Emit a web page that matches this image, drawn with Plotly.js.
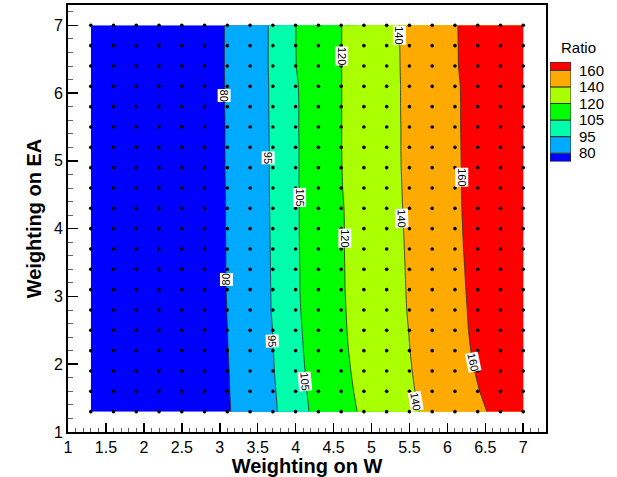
<!DOCTYPE html>
<html>
<head>
<meta charset="utf-8">
<script src="https://cdn.plot.ly/plotly-3.0.1.min.js"></script>
<style>
  html, body { margin: 0; padding: 0; background: #fff; }
  #chart { width: 617px; height: 477px; }
</style>
</head>
<body>
<div id="chart"></div>
<script>
// ---- data ----
var xVals = [1.3, 1.6, 1.9, 2.2, 2.5, 2.8, 3.1, 3.4, 3.7, 4.0, 4.3, 4.6, 4.9, 5.2, 5.5, 5.8, 6.1, 6.4, 6.7, 7.0];
var yVals = [1.3, 1.6, 1.9, 2.2, 2.5, 2.8, 3.1, 3.4, 3.7, 4.0, 4.3, 4.6, 4.9, 5.2, 5.5, 5.8, 6.1, 6.4, 6.7, 7.0];

// Ratio values, one row per y (from y = 1.3 up to y = 7.0)
var ratioY13 = [32.0, 39.8, 47.6, 55.4, 63.2, 71.0, 78.9, 86.2, 93.5, 100.8, 107.9, 115.0, 122.1, 129.6, 137.0, 144.0, 150.7, 157.3, 164.0, 170.6];
var ratioY16 = [32.4, 40.2, 48.0, 55.8, 63.6, 71.4, 79.2, 86.6, 94.0, 101.4, 108.7, 116.0, 123.3, 130.8, 138.3, 145.4, 152.4, 159.4, 166.4, 173.4];
var ratioY19 = [32.6, 40.4, 48.2, 56.0, 63.8, 71.6, 79.4, 86.9, 94.5, 101.9, 109.4, 116.8, 124.3, 131.7, 139.1, 146.4, 153.7, 161.0, 168.3, 175.6];
var ratioY22 = [32.9, 40.7, 48.5, 56.3, 64.1, 71.9, 79.7, 87.3, 94.8, 102.4, 110.0, 117.6, 125.0, 132.4, 139.8, 147.3, 154.8, 162.3, 169.8, 177.3];
var ratioY25 = [33.2, 41.0, 48.8, 56.6, 64.4, 72.2, 79.97, 87.5, 95.1, 102.8, 110.5, 118.1, 125.5, 132.9, 140.3, 147.9, 155.5, 163.1, 170.6, 178.2];
var ratioY28 = [33.4, 41.2, 49.0, 56.8, 64.6, 72.4, 80.2, 87.9, 95.6, 103.3, 110.9, 118.4, 125.9, 133.4, 140.9, 148.4, 155.9, 163.5, 171.0, 178.5];
var ratioY31 = [33.6, 41.4, 49.2, 57.0, 64.8, 72.6, 80.4, 88.1, 95.7, 103.6, 111.1, 118.7, 126.2, 133.7, 141.2, 148.8, 156.4, 163.9, 171.5, 179.1];
var ratioY34 = [33.7, 41.5, 49.3, 57.1, 64.9, 72.7, 80.5, 88.2, 95.8, 103.6, 111.2, 118.8, 126.3, 133.9, 141.4, 149.1, 156.7, 164.4, 172.0, 179.7];
var ratioY37 = [33.7, 41.5, 49.3, 57.1, 64.9, 72.7, 80.5, 88.2, 95.9, 103.7, 111.3, 118.9, 126.5, 134.1, 141.7, 149.4, 157.1, 164.8, 172.5, 180.2];
var ratioY40 = [33.8, 41.6, 49.4, 57.2, 65.0, 72.8, 80.6, 88.3, 96.0, 103.8, 111.4, 118.9, 126.6, 134.3, 142.0, 149.7, 157.4, 165.1, 172.9, 180.6];
var ratioY43 = [33.9, 41.7, 49.4, 57.2, 65.0, 72.9, 80.6, 88.3, 96.1, 103.8, 111.4, 119.0, 126.8, 134.6, 142.3, 150.0, 157.7, 165.3, 173.0, 180.7];
var ratioY46 = [33.9, 41.7, 49.5, 57.3, 65.1, 72.9, 80.7, 88.4, 96.2, 103.8, 111.6, 119.5, 127.2, 134.9, 142.5, 150.2, 157.8, 165.4, 173.1, 180.7];
var ratioY49 = [34.0, 41.8, 49.6, 57.4, 65.2, 73.0, 80.8, 88.5, 96.2, 103.8, 111.8, 119.7, 127.4, 135.1, 142.8, 150.3, 157.9, 165.5, 173.1, 180.7];
var ratioY52 = [34.0, 41.8, 49.6, 57.4, 65.2, 73.0, 80.8, 88.5, 96.2, 103.8, 111.8, 119.8, 127.5, 135.2, 142.9, 150.4, 158.0, 165.6, 173.2, 180.8];
var ratioY55 = [34.0, 41.8, 49.6, 57.4, 65.2, 73.0, 80.8, 88.6, 96.3, 103.9, 111.8, 119.8, 127.5, 135.2, 142.9, 150.5, 158.1, 165.7, 173.3, 180.8];
var ratioY58 = [34.1, 41.9, 49.7, 57.5, 65.3, 73.1, 80.9, 88.6, 96.4, 103.9, 111.8, 119.8, 127.5, 135.3, 143.0, 150.6, 158.1, 165.7, 173.3, 180.9];
var ratioY61 = [34.1, 41.9, 49.7, 57.5, 65.3, 73.1, 80.9, 88.7, 96.4, 104.0, 111.9, 119.8, 127.5, 135.3, 143.0, 150.6, 158.2, 165.8, 173.4, 181.0];
var ratioY64 = [34.4, 42.2, 50.0, 57.7, 65.5, 73.2, 81.0, 88.7, 96.6, 104.8, 112.3, 119.8, 127.6, 135.4, 143.2, 151.0, 158.8, 166.6, 174.4, 182.2];
var ratioY67 = [34.4, 42.2, 50.0, 57.7, 65.5, 73.2, 81.0, 88.7, 96.6, 104.9, 112.4, 119.8, 127.6, 135.5, 143.3, 151.1, 158.9, 166.7, 174.5, 182.3];
var ratioY70 = [34.4, 42.2, 50.0, 57.7, 65.5, 73.2, 81.0, 88.7, 96.6, 104.9, 112.4, 119.8, 127.7, 135.6, 143.4, 151.2, 159.0, 166.8, 174.6, 182.4];

var contourLevels = [80, 95, 105, 120, 140, 160];
var legendLabels = ['80', '95', '105', '120', '140', '160'];
var bandColors = ['#0000ff', '#00aaff', '#00ffaa', '#00ff00', '#aaff00', '#ffaa00', '#ff0000'];

// contour label placement (text, position on the line, rotation)
var contourLabels = [
  {t: '80',  x: 3.06, y: 5.96, a: 90},
  {t: '95',  x: 3.645, y: 5.05, a: 90},
  {t: '140', x: 5.37, y: 6.86, a: 90},
  {t: '120', x: 4.609, y: 6.55, a: 90},
  {t: '105', x: 4.046, y: 4.46, a: 90},
  {t: '160', x: 6.183, y: 4.755, a: 90},
  {t: '140', x: 5.405, y: 4.15, a: 88},
  {t: '120', x: 4.642, y: 3.855, a: 90},
  {t: '80',  x: 3.082, y: 3.25, a: -90},
  {t: '95',  x: 3.69, y: 2.34, a: 88},
  {t: '105', x: 4.12, y: 1.75, a: 85},
  {t: '160', x: 6.345, y: 2.04, a: 78},
  {t: '140', x: 5.59, y: 1.45, a: 80}
];

// ---- build ----
var zRows = [ratioY13, ratioY16, ratioY19, ratioY22, ratioY25, ratioY28, ratioY31, ratioY34, ratioY37, ratioY40,
             ratioY43, ratioY46, ratioY49, ratioY52, ratioY55, ratioY58, ratioY61, ratioY64, ratioY67, ratioY70];

var cStart = 80, cEnd = 160, cSize = 5;
var nC = (cEnd - cStart) / cSize + 1;
function sOf(v) { return (v - (cStart - cSize / 2)) / (nC * cSize); }
var colorscale = [[0, bandColors[0]]];
for (var k = 0; k < contourLevels.length; k++) {
  var s = sOf(contourLevels[k]);
  colorscale.push([s, bandColors[k]]);
  colorscale.push([s, bandColors[k + 1]]);
}
colorscale.push([1, bandColors[bandColors.length - 1]]);

var traces = [];
traces.push({
  type: 'contour', x: xVals, y: yVals, z: zRows,
  autocontour: false,
  contours: {coloring: 'fill', start: cStart, end: cEnd, size: cSize, showlines: false},
  colorscale: colorscale, showscale: false,
  line: {width: 0}, hoverinfo: 'skip'
});
contourLevels.forEach(function (L) {
  traces.push({
    type: 'contour', x: xVals, y: yVals, z: zRows,
    autocontour: false,
    contours: {coloring: 'none', start: L, end: L, size: 1, showlines: true},
    line: {color: '#2a2a2a', width: 0.8, smoothing: 0},
    showscale: false, hoverinfo: 'skip'
  });
});

var dotX = [], dotY = [];
yVals.forEach(function (yv) { xVals.forEach(function (xv) { dotX.push(xv); dotY.push(yv); }); });
traces.push({
  type: 'scatter', mode: 'markers', x: dotX, y: dotY,
  marker: {color: '#000', size: 3.6}, hoverinfo: 'skip'
});

// legend as stacked boxes
var legHeights = bandColors.map(function (c, i) { return (i === 0 || i === bandColors.length - 1) ? 0.5 : 1; });
var legBase = [], acc = 0;
legHeights.forEach(function (h) { legBase.push(acc); acc += h; });
traces.push({
  type: 'bar', x: bandColors.map(function () { return 0; }), y: legHeights, base: legBase,
  width: 1, xaxis: 'x2', yaxis: 'y2',
  marker: {color: bandColors, line: {color: '#333', width: 1}},
  hoverinfo: 'skip'
});
var legTickVals = contourLevels.map(function (L, i) { return 0.5 + i; });

var font = 'Liberation Sans, Arial, sans-serif';
var W = 617, H = 477, mL = 68, mR = 10, mT = 5, mB = 45;
var pw = W - mL - mR, ph = H - mT - mB;
function px2x(p) { return (p - mL) / pw; }
function py2y(p) { return (H - mB - p) / ph; }

var annotations = contourLabels.map(function (c) {
  return {x: c.x, y: c.y, xref: 'x', yref: 'y', text: c.t, showarrow: false,
          textangle: c.a, bgcolor: '#ffffff', borderpad: 0,
          font: {family: font, size: 11, color: '#000'}};
});
annotations.push({x: px2x(578), y: py2y(47), xref: 'paper', yref: 'paper', text: 'Ratio',
                  xanchor: 'center', yanchor: 'middle',
                  showarrow: false, font: {family: font, size: 15, color: '#000'}});

var layout = {
  width: W, height: H,
  margin: {l: mL, r: mR, t: mT, b: mB, pad: 0},
  paper_bgcolor: '#fff', plot_bgcolor: '#fff',
  font: {family: font, color: '#000'},
  showlegend: false,
  xaxis: {
    domain: [0, px2x(546)], range: [1, 7.3], anchor: 'y',
    tick0: 1, dtick: 0.5, ticks: 'inside', ticklen: 9, tickwidth: 1.5, tickcolor: '#000',
    minor: {dtick: 0.1, ticks: 'inside', ticklen: 4, tickwidth: 1, tickcolor: '#666'},
    showline: true, linewidth: 2, linecolor: '#000', mirror: true,
    showgrid: false, zeroline: false,
    tickfont: {family: font, size: 16, color: '#000'},
    title: {text: 'Weighting on W', font: {family: font, size: 20, weight: 'bold', color: '#000'}, standoff: 0},
    automargin: false
  },
  yaxis: {
    domain: [0, 1], range: [1, 7.3], anchor: 'x',
    tick0: 1, dtick: 1, ticks: 'inside', ticklen: 10, tickwidth: 1.5, tickcolor: '#000',
    minor: {dtick: 0.2, ticks: 'inside', ticklen: 5, tickwidth: 1, tickcolor: '#666'},
    showline: true, linewidth: 2, linecolor: '#000', mirror: true,
    showgrid: false, zeroline: false,
    tickfont: {family: font, size: 16, color: '#000'},
    title: {text: 'Weighting on EA', font: {family: font, size: 20, weight: 'bold', color: '#000'}, standoff: 7},
    automargin: false
  },
  xaxis2: {domain: [px2x(550), px2x(571)], anchor: 'y2', range: [-0.5, 0.5], visible: false, fixedrange: true},
  yaxis2: {
    domain: [py2y(161.5), py2y(62)], anchor: 'x2', range: [0, 6], side: 'right',
    tickvals: legTickVals, ticktext: legendLabels, ticks: '', ticklabelstandoff: 7,
    showline: false, showgrid: false, zeroline: false, fixedrange: true,
    tickfont: {family: font, size: 15, color: '#000'}
  },
  annotations: annotations
};

Plotly.newPlot('chart', traces, layout, {displayModeBar: false, staticPlot: true});
</script>
</body>
</html>
